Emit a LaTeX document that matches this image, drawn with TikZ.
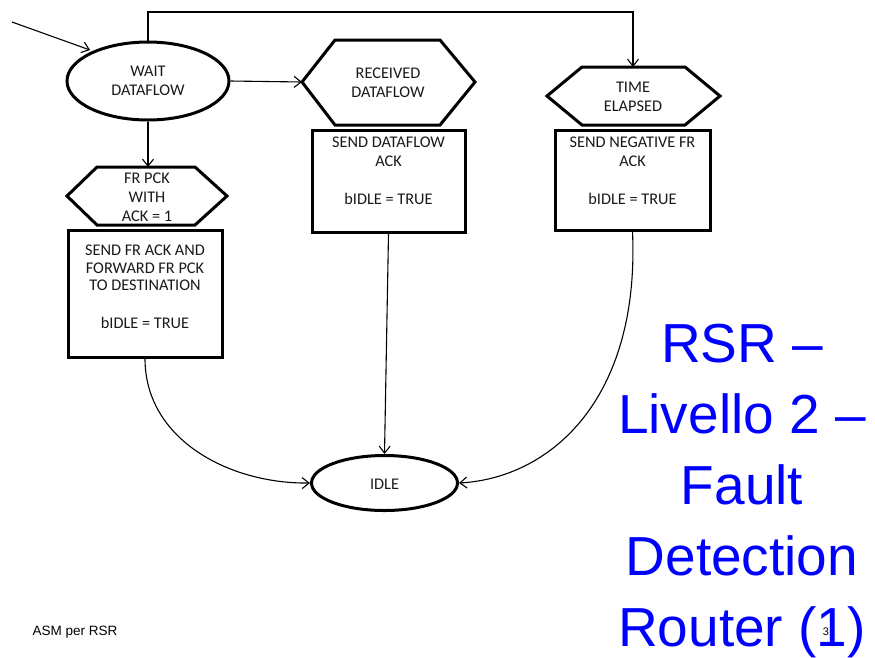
\documentclass[tikz,border=0pt]{standalone}
\usepackage{fontspec}
\setmainfont{Carlito}
\newfontfamily\arialf{Liberation Sans}
\usetikzlibrary{arrows.meta,shapes.geometric}
\definecolor{bigblue}{RGB}{0,0,255}
\begin{document}
\begin{tikzpicture}[x=1pt,y=-1pt,
  thickline/.style={line width=3pt},
  conn/.style={line width=1.1pt,-{Straight Barb[length=7pt,width=11pt,line width=1.1pt]}},
  lbl/.style={font=\fontsize{16.3}{19}\selectfont,align=center,text=black!90},
  stateell/.style={draw,thickline,ellipse,inner sep=0pt},
  hexa/.style={draw,thickline,line join=miter},
  actbox/.style={draw,thickline}]
\useasboundingbox (0,0) rectangle (875,657);
% WAIT DATAFLOW
\node[stateell,minimum width=162pt,minimum height=78pt] (wait) at (148,81) {};
\node[lbl] (waitt) at (148,81) {WAIT\\DATAFLOW};
% RECEIVED hexagon
\draw[hexa] (302,82) -- (335,40) -- (440,40) -- (475,82) -- (440,125) -- (335,125) -- cycle;
\coordinate (recl) at (302,82);
\node[lbl] (rect) at (388,83) {RECEIVED\\DATAFLOW};
\node[actbox,minimum width=153pt,minimum height=102pt] (sendda) at (388.5,181) {};
\node[lbl] (sendt) at (388.5,171) {SEND DATAFLOW\\ACK\\[19pt]bIDLE = TRUE};
% TIME ELAPSED
\draw[hexa] (547,96) -- (582,67) -- (685,67) -- (720,96) -- (685,125) -- (582,125) -- cycle;
\coordinate (timet) at (633,67);
\node[lbl] (timel) at (633,97) {TIME\\ELAPSED};
\node[actbox,minimum width=155pt,minimum height=100pt] (sendneg) at (632.5,180) {};
\node[lbl] (negt) at (632.5,171) {SEND NEGATIVE FR\\ACK\\[19pt]bIDLE = TRUE};
% FR PCK hexagon
\draw[hexa] (67,196) -- (97,167) -- (195,167) -- (227,196) -- (195,225) -- (97,225) -- cycle;
\coordinate (frt) at (148,167);
\node[lbl] (frl) at (147,197) {FR PCK\\WITH\\ACK = 1};
\node[actbox,minimum width=154pt,minimum height=127pt] (sendfr) at (145,293.5) {};
\node[lbl,font=\fontsize{16.3}{17.5}\selectfont] (frbt) at (145,287) {SEND FR ACK AND\\FORWARD FR PCK\\TO DESTINATION\\[20pt]bIDLE = TRUE};
% IDLE
\node[stateell,minimum width=146pt,minimum height=55pt] (idle) at (384.5,483) {};
\node[lbl] (idlet) at (384.5,484) {IDLE};
% connectors
\coordinate (start) at (12,22);
\draw[conn] (start) -- (90,50);
\coordinate (c1) at (148,12);
\coordinate (c2) at (633,12);
\draw[conn] (wait.north) -- (c1) -- (c2) -- (timet);
\draw[conn] (wait.east) -- (recl);
\draw[conn] (wait.south) -- (frt);
\draw[conn] (sendda.south) -- (idle.north);
\draw[conn] (sendfr.south) .. controls (145,440) and (230,484) .. (idle.west);
\draw[conn] (sendneg.south) .. controls (640,400) and (550,478) .. (idle.east);
% footer texts
\node[anchor=west,font=\arialf\fontsize{13.5}{16}\selectfont] (asm) at (29,632) {ASM per RSR};
\node[font=\arialf\fontsize{11}{13}\selectfont] (pg) at (829,632) {31};
\node[font=\arialf\fontsize{55}{71}\selectfont,text=bigblue,align=center] (title) at (742,491) {RSR –\\Livello 2 –\\Fault\\Detection\\Router (1)};
\end{tikzpicture}
\end{document}
